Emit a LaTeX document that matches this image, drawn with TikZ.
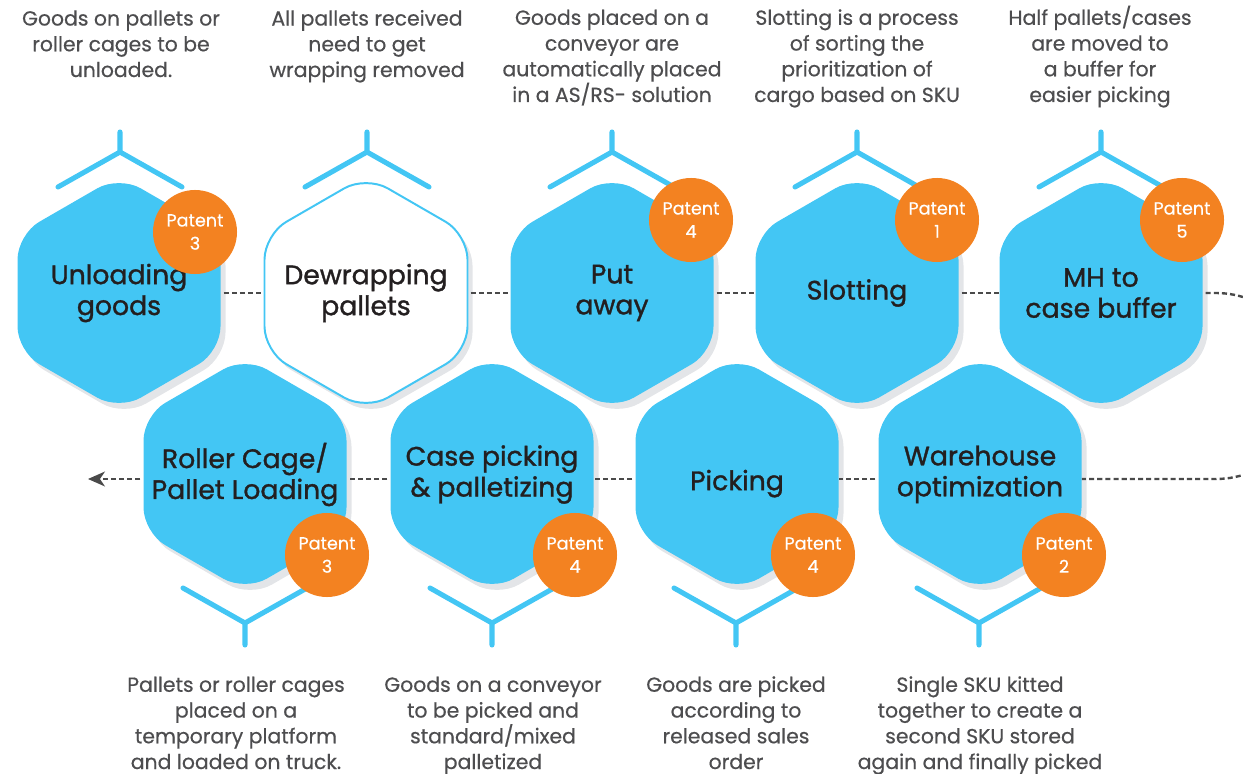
\documentclass[tikz,border=0pt]{standalone}
\usepackage{fontspec}
\setmainfont{Poppins}
\newfontfamily\labelfont{Poppins}[FakeBold=1.2]
\newfontfamily\blurbfont{Poppins}[FakeBold=0.5]
\usetikzlibrary{arrows.meta,positioning}
\definecolor{hexblue}{HTML}{43C6F4}
\definecolor{patentorange}{HTML}{F38221}
\definecolor{hexshade}{HTML}{E3E5E8}
\definecolor{labeltext}{HTML}{231F20}
\definecolor{desctext}{HTML}{4D4D4F}
\definecolor{flowgray}{HTML}{4A4A4A}
\newcommand{\hexoutline}{(101.5,0)--(101.5,58.6)--(0,117.2)--(-101.5,58.6)--(-101.5,-58.6)--(0,-117.2)--(101.5,-58.6)--cycle}
\tikzset{
  hexfill/.style={fill=hexblue,rounded corners=0.625cm},
  hexshadow/.style={fill=hexshade,rounded corners=0.625cm},
  hexlabel/.style={minimum width=5.075cm,minimum height=2cm,inner sep=0pt,align=center,text=labeltext,font=\labelfont\fontsize{19}{22}\selectfont},
  raised/.style={text depth=11.5pt},
  lowered/.style={text height=21pt},
  patent/.style={circle,fill=patentorange,minimum size=2.1cm,inner sep=0pt,align=center,text=white,font=\blurbfont\fontsize{12.5}{16.5}\selectfont},
  blurb/.style={inner sep=0pt,align=center,anchor=base,text=desctext,font=\blurbfont\fontsize{14.5}{18.3}\selectfont},
  flow/.style={draw=flowgray,line width=1.7pt,dash pattern=on 3.6pt off 2.2pt,shorten <=2pt},
  chevron/.style={draw=hexblue,line width=3.6pt,line cap=round,line join=round}
}
\begin{document}
\begin{tikzpicture}[x=0.025cm,y=-0.025cm]
\useasboundingbox(0,0)rectangle(1243,774);
\clip(0,0)rectangle(1243,774);
%shadows
\foreach \cx/\cy in {119/293,366/293,612/293,857/293,1101/293,245/474,492/474,737/474,980/474}
  \fill[hexshadow,shift={(\cx+5,\cy+6)}]\hexoutline;
%hexagons
\foreach \cx/\cy in {119/293,612/293,857/293,1101/293,245/474,492/474,737/474,980/474}
  \fill[hexfill,shift={(\cx,\cy)}]\hexoutline;
\filldraw[fill=white,draw=hexblue,line width=1.4pt,rounded corners=0.625cm,shift={(366,293)}]\hexoutline;
%step labels
\node[hexlabel](unload)at(119,293){Unloading\\goods};
\node[hexlabel](dewrap)at(366,293){Dewrapping\\pallets};
\node[hexlabel](putaway)at(612,293){Put\\away};
\node[hexlabel](slot)at(857,293){Slotting};
\node[hexlabel](mhbuf)at(1101,293){MH to\\case buffer};
\node[hexlabel,raised](ware)at(980,479){Warehouse\\optimization};
\node[hexlabel,lowered](pick)at(737,479){Picking};
\node[hexlabel,raised](casepick)at(492,479){Case picking\\\& palletizing};
\node[hexlabel,raised](roller)at(245,479){Roller Cage/\\Pallet Loading};
\coordinate(exit)at(88,479);
%flow
\draw[flow](unload.east)--(dewrap.west);
\draw[flow](dewrap.east)--(putaway.west);
\draw[flow](putaway.east)--(slot.west);
\draw[flow](slot.east)--(mhbuf.west);
\draw[flow,rounded corners=2.325cm](mhbuf.east)--++(106,0)|-(ware.east);
\draw[flow](ware.west)--(pick.east);
\draw[flow](pick.west)--(casepick.east);
\draw[flow](casepick.west)--(roller.east);
\draw[flow,-{Stealth[length=12pt,width=10.5pt,inset=3.5pt]}](roller.west)--(exit);
%chevrons
\foreach \cx in {120,367,612,857,1101}
  \draw[chevron](\cx-62,187)--(\cx,152)--(\cx,132)(\cx,152)--(\cx+62,187);
\foreach \cx in {245,492,736,979}
  \draw[chevron](\cx-62,588)--(\cx,623)--(\cx,645)(\cx,623)--(\cx+62,588);
%patents
\node[patent](pat1)at(195,232){Patent\\3};
\node[patent](pat2)at(691,220){Patent\\4};
\node[patent](pat3)at(937,220){Patent\\1};
\node[patent](pat4)at(1182,220){Patent\\5};
\node[patent](pat5)at(1064,555){Patent\\2};
\node[patent](pat6)at(813,555){Patent\\4};
\node[patent](pat7)at(575,555){Patent\\4};
\node[patent](pat8)at(327,555){Patent\\3};
%descriptions (anchored at last baseline)
\node[blurb](txt1)at(121,77){Goods on pallets or\\roller cages to be\\unloaded.};
\node[blurb](txt2)at(367,77){All pallets received\\need to get\\wrapping removed};
\node[blurb](txt3)at(612,102){Goods placed on a\\conveyor are\\automatically placed\\in a AS/RS- solution};
\node[blurb](txt4)at(857,102){Slotting is a process\\of sorting the\\prioritization of\\cargo based on SKU};
\node[blurb](txt5)at(1100,102){Half pallets/cases\\are moved to\\a buffer for\\easier picking};
\node[blurb](txt6)at(236,769){Pallets or roller cages\\placed on a\\temporary platform\\and loaded on truck.};
\node[blurb](txt7)at(493,769){Goods on a conveyor\\to be picked and\\standard/mixed\\palletized};
\node[blurb](txt8)at(736,769){Goods are picked\\according to\\released sales\\order};
\node[blurb](txt9)at(980,769){Single SKU kitted\\together to create a\\second SKU stored\\again and finally picked};
\end{tikzpicture}
\end{document}
